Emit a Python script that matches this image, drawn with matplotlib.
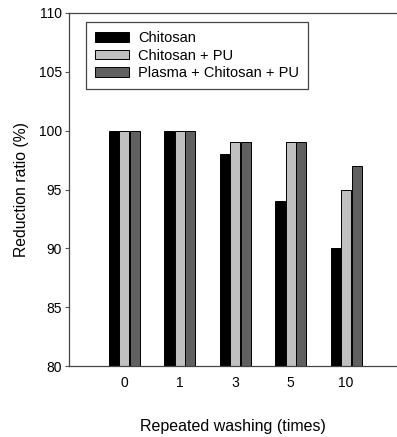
import matplotlib
matplotlib.use("Agg")
import matplotlib.pyplot as plt
import numpy as np

plt.rcParams['font.family'] = ['Liberation Sans', 'DejaVu Sans']

categories = ["0", "1", "3", "5", "10"]
series_names = ["Chitosan", "Chitosan + PU", "Plasma + Chitosan + PU"]
chitosan = [100, 100, 98, 94, 90]
chitosan_pu = [100, 100, 99, 99, 95]
plasma_chitosan_pu = [100, 100, 99, 99, 97]
colors = ["#000000", "#c0c0c0", "#606060"]

fig = plt.figure(figsize=(3.97, 4.37), dpi=100)
ax = fig.add_axes([69/397, 1-366/437, (396-69)/397, (366-13)/437])

x = np.arange(len(categories))
w = 0.19
for i, (vals, name, c) in enumerate(zip([chitosan, chitosan_pu, plasma_chitosan_pu], series_names, colors)):
    ax.bar(x + (i-1)*w, vals, width=w*0.96, color=c, edgecolor="black", linewidth=0.7, label=name)

ax.set_ylim(80, 110)
ax.set_xlim(-1.0, 4.9)
ax.set_yticks(np.arange(80, 111, 5))
ax.set_xticks(x)
ax.set_xticklabels(categories)
ax.tick_params(axis='x', length=0, pad=7, labelsize=10)
ax.tick_params(axis='y', length=3, width=0.8, color="#555555", pad=2, labelsize=10)
for s in ['left', 'bottom', 'top']:
    ax.spines[s].set_color("#444444")
    ax.spines[s].set_linewidth(0.9)
ax.spines['right'].set_visible(False)

ax.set_ylabel("Reduction ratio (%)", fontsize=11.3, labelpad=7)
ax.set_xlabel("Repeated washing (times)", fontsize=11.5, labelpad=21)

leg = ax.legend(loc='upper left', bbox_to_anchor=(17/327, 1-9/353), borderaxespad=0,
                fontsize=10.5, handlelength=2.35, handleheight=0.62, handletextpad=0.6,
                labelspacing=0.25, borderpad=0.62, fancybox=False, framealpha=1)
leg.get_frame().set_edgecolor("#444444")
leg.get_frame().set_linewidth(0.9)

fig.savefig("out.png", dpi=100)
